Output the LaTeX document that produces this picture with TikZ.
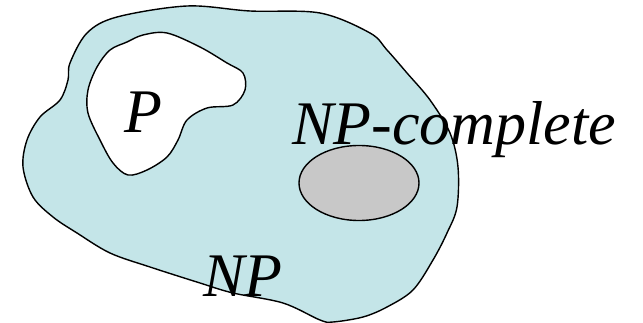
\documentclass[tikz,border=0pt]{standalone}
\usepackage{fontspec}
\setmainfont{Liberation Serif}
\usetikzlibrary{shapes.geometric}
\definecolor{npblue}{RGB}{196,229,232}
\definecolor{npcgray}{RGB}{200,200,200}
\tikzset{
  blob/.style={draw=black, line width=1.4pt, line join=round},
  lbl/.style={inner sep=0pt, font=\fontsize{62}{70}\selectfont\itshape},
}
\begin{document}
\begin{tikzpicture}[x=1pt,y=-1pt]
\useasboundingbox (0,0) rectangle (643,323);
% NP region
\draw[blob, fill=npblue] plot[smooth cycle, tension=0.55] coordinates {
 (117,17) (187,6) (250,11) (320,13) (370,33) (387,50) (407,73) (430,100)
 (450,133) (458,167) (457,207) (447,233) (433,260) (413,290) (387,307)
 (363,317) (333,322) (320,320) (283,303) (233,293) (200,283) (150,267)
 (110,253) (77,233) (53,217) (33,197) (23,167) (27,140) (40,117) (60,100)
 (68,80) (70,63) (87,33)};
% P region
\draw[blob, fill=white] plot[smooth cycle, tension=0.55] coordinates {
 (127,42) (143,35) (167,33) (200,47) (227,63) (243,73) (245,90) (233,105)
 (207,108) (187,120) (178,140) (167,157) (147,170) (128,175) (113,163)
 (100,140) (88,113) (88,90) (97,67) (110,50)};
% NP-complete region
\node[blob, fill=npcgray, ellipse, minimum width=120pt, minimum height=75pt, inner sep=0pt] (npc) at (359,183) {};
% labels
\node[lbl, anchor=base west] (p) at (124,133) {P};
\node[lbl, anchor=base west] (npclbl) at (292,145) {NP-complete};
\node[lbl, anchor=base west] (np) at (203,297) {NP};
\end{tikzpicture}
\end{document}
